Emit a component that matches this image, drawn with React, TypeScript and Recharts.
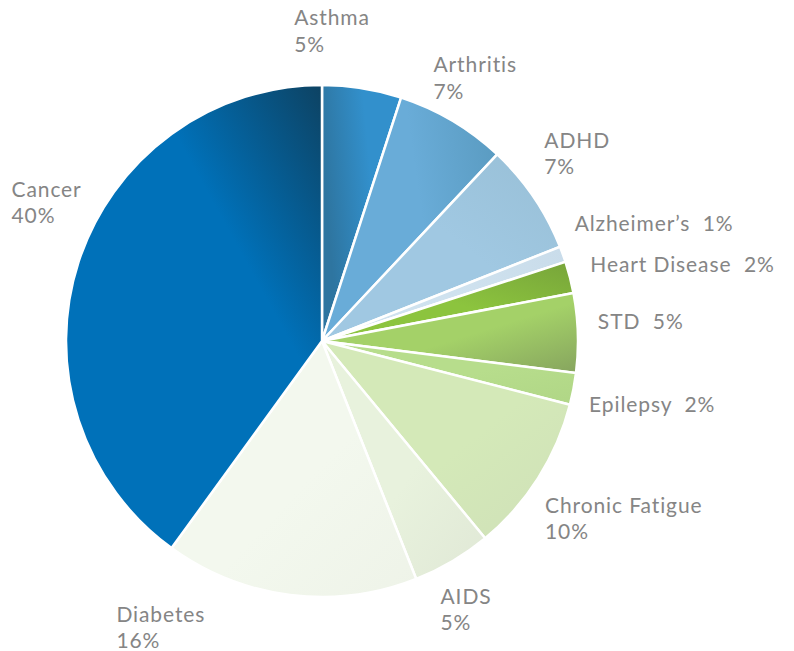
import React from 'react';
import { PieChart, Pie, Cell } from 'recharts';

const conditions = ['Asthma', 'Arthritis', 'ADHD', 'Alzheimer’s', 'Heart Disease', 'STD', 'Epilepsy', 'Chronic Fatigue', 'AIDS', 'Diabetes', 'Cancer'];
const shares = [5, 7, 7, 1, 2, 5, 2, 10, 5, 16, 40];

// [light end, dark end] for each slice gradient
const sliceColors: [string, string][] = [
  ['#3290cc', '#2e75a0'],
  ['#69acd8', '#5b9cc2'],
  ['#a0c8e2', '#98bfd6'],
  ['#cfe2ef', '#c9dcea'],
  ['#8cc43e', '#77a43a'],
  ['#a4d168', '#86a45e'],
  ['#b7dd8c', '#b0d686'],
  ['#d4e9b8', '#cfe0b8'],
  ['#e8f2dd', '#e0e8d6'],
  ['#f3f8ee', '#eef3e8'],
  ['#0071b9', '#0d4262'],
];

// gradient direction per slice (objectBoundingBox) and where the darkening starts
const gradDir = [
  [1, 0, 0, 0.3], [0, 0.5, 1, 0.3], [0, 1, 1, 0], [0, 0, 1, 0], [0, 1, 1, 0],
  [0, 0, 1, 1], [0, 0, 1, 1], [0, 0, 1, 1], [0, 0, 1, 1], [0, 0, 1, 1], [0, 1, 1, 0],
];
const gradStart = [0.45, 0.55, 0.55, 0.55, 0.5, 0.55, 0.55, 0.55, 0.55, 0.55, 0.66];

// label on one line ("Name  x%") or two lines
const inlineLabel = [false, false, false, true, true, true, true, false, false, false, false];
// nudge from the radial anchor point to the first baseline
const labelNudge = [
  [-71, -43], [-29, -31], [-6, -38], [-7, -17], [1, 0], [0, -3],
  [-4, 19], [-10, 24], [-22, 25], [-171, 7], [-48, -59],
];

const data = conditions.map((name, i) => ({ name, value: shares[i] }));
const RAD = Math.PI / 180;
const textStyle = { fontFamily: 'Lato, "Noto Sans", sans-serif', fontSize: 21, letterSpacing: 0.9, fill: '#858585' };

function renderLabel(props: any) {
  const { cx, cy, midAngle, outerRadius, index, value, name } = props;
  const r = outerRadius + 20;
  const x = cx + r * Math.cos(-midAngle * RAD) + labelNudge[index][0];
  const y = cy + r * Math.sin(-midAngle * RAD) + labelNudge[index][1];
  if (inlineLabel[index]) {
    return (
      <text x={x} y={y} style={textStyle} textAnchor="start" xmlSpace="preserve">
        {`${name}  ${value}%`}
      </text>
    );
  }
  return (
    <text x={x} y={y} style={textStyle} textAnchor="start">
      <tspan x={x} y={y}>{name}</tspan>
      <tspan x={x} y={y + 26.5}>{value}%</tspan>
    </text>
  );
}

export default function App() {
  return (
    <div style={{ position: 'absolute', left: 0, top: 0, background: '#fff' }}>
      <PieChart width={794} height={651} margin={{ top: 0, right: 0, bottom: 0, left: 0 }}>
        <defs>
          {sliceColors.map(([a, b], i) => (
            <linearGradient key={i} id={`g${i}`} x1={gradDir[i][0]} y1={gradDir[i][1]} x2={gradDir[i][2]} y2={gradDir[i][3]}>
              <stop offset="0%" stopColor={a} />
              <stop offset={`${gradStart[i] * 100}%`} stopColor={a} />
              <stop offset="100%" stopColor={b} />
            </linearGradient>
          ))}
        </defs>
        <Pie
          data={data}
          dataKey="value"
          nameKey="name"
          cx={322}
          cy={341}
          outerRadius={256}
          startAngle={90}
          endAngle={-270}
          stroke="#ffffff"
          strokeWidth={2.5}
          label={renderLabel}
          labelLine={false}
          isAnimationActive={false}
        >
          {data.map((d, i) => (
            <Cell key={d.name} fill={`url(#g${i})`} />
          ))}
        </Pie>
      </PieChart>
    </div>
  );
}
